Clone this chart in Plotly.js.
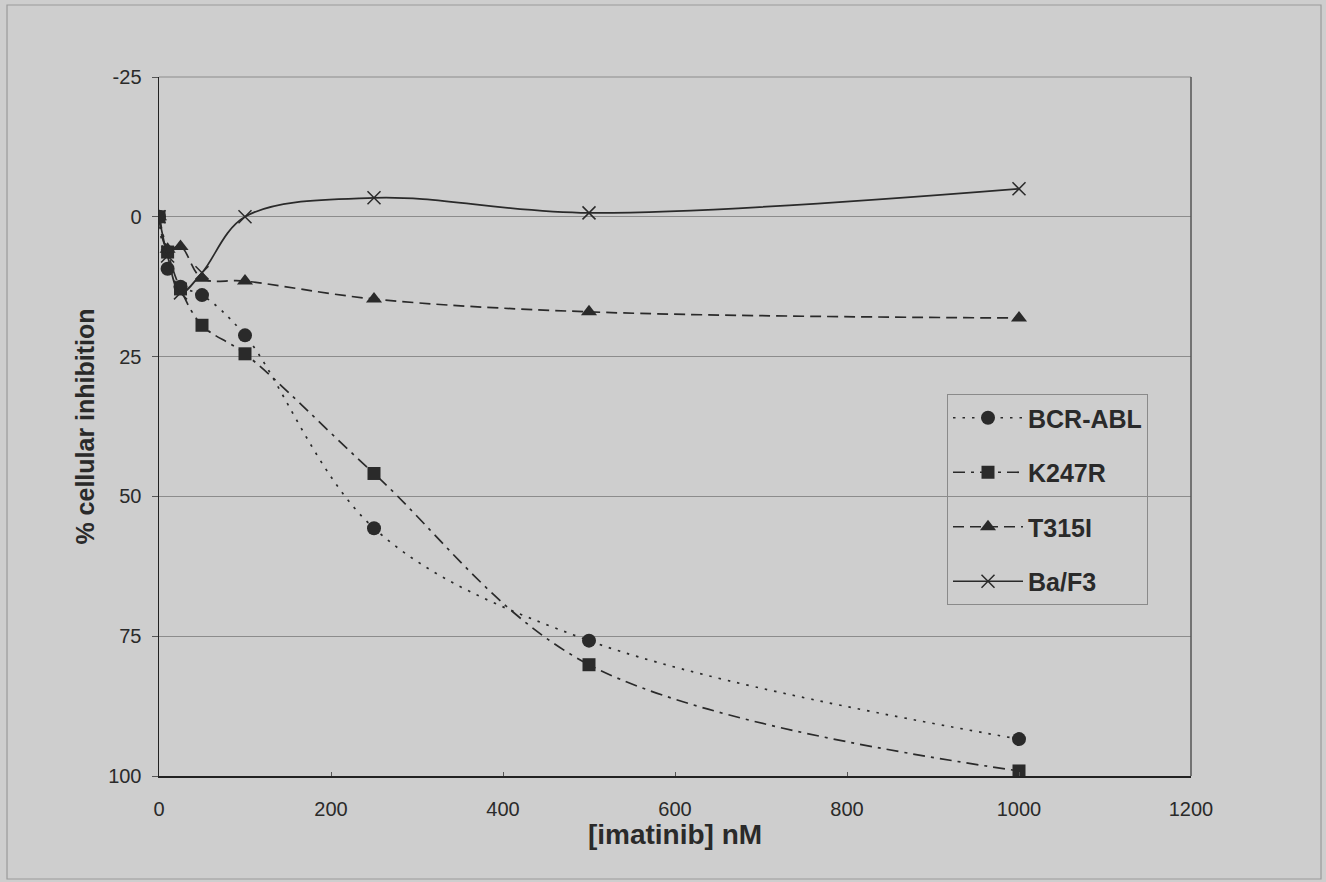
<!DOCTYPE html>
<html>
<head>
<meta charset="utf-8">
<script src="https://cdn.plot.ly/plotly-3.0.1.min.js"></script>
<style>html,body{margin:0;padding:0;background:#cecece;}</style>
</head>
<body>
<div id="chart" style="width:1326px;height:882px;"></div>
<script>
// Data
const concentrations = [0, 10, 25, 50, 100, 250, 500, 1000];
const bcrAbl = [0, 9.3, 12.5, 14, 21.2, 55.7, 75.8, 93.4];
const k247r  = [0, 6.3, 12.9, 19.4, 24.5, 45.9, 80.1, 99.1];
const t315i  = [0, 5.8, 5.3, 11, 11.5, 14.7, 17, 18.1];
const baf3   = [0, 7, 13.6, 10, 0, -3.4, -0.7, -5];
const seriesNames = ['BCR-ABL', 'K247R', 'T315I', 'Ba/F3'];
const yTicks = [-25, 0, 25, 50, 75, 100];
const xTicks = [0, 200, 400, 600, 800, 1000, 1200];

const ink = '#2a2a2a';
const font = 'Liberation Sans, Arial, sans-serif';

function trace(y, name, dash, symbol, size, group) {
  const isX = symbol === 'x-thin';
  return {
    x: concentrations, y: y, name: name, type: 'scatter', mode: 'lines+markers',
    legendgroup: group,
    line: {color: ink, width: 1.7, dash: dash, shape: 'spline', smoothing: 1},
    marker: {symbol: symbol, size: size, color: ink,
             line: {color: ink, width: isX ? 1.5 : 0}}
  };
}

const data = [
  trace(bcrAbl, seriesNames[0], '2.5px,7px', 'circle', 14, 'a'),
  trace(k247r, seriesNames[1], '12px,6px,3px,6px', 'square', 13, 'b'),
  trace(t315i, seriesNames[2], '11px,6px', 'triangle-up', 14, 'c'),
  trace(baf3, seriesNames[3], 'solid', 'x-thin', 13, 'd')
];

const L = 159, R = 1191, T = 77, B = 776;
const px = v => (v - L) / (R - L);
const py = v => (B - v) / (B - T);

const layout = {
  width: 1326, height: 882,
  margin: {l: L, r: 1326 - R, t: T, b: 882 - B},
  paper_bgcolor: '#cecece', plot_bgcolor: '#cecece',
  font: {family: font, color: ink, size: 20},
  showlegend: true,
  legend: {
    x: px(947), y: py(394), xanchor: 'left', yanchor: 'top',
    bgcolor: 'rgba(0,0,0,0)', bordercolor: '#8a8a8a', borderwidth: 1,
    font: {family: font, size: 25, color: ink, weight: 'bold'},
    traceorder: 'grouped', tracegroupgap: 19,
    itemwidth: 70
  },
  xaxis: {
    range: [0, 1200], tickvals: xTicks, ticktext: xTicks.map(String),
    showgrid: false, zeroline: false,
    showline: true, linecolor: '#222', linewidth: 1.5,
    ticks: 'inside', ticklen: 4, tickcolor: '#555',
    ticklabelstandoff: 14,
    tickfont: {size: 20, color: ink},
    title: {text: '[imatinib] nM', font: {size: 28, weight: 'bold', color: ink}, standoff: 2}
  },
  yaxis: {
    range: [100, -25], tickvals: yTicks, ticktext: yTicks.map(String),
    showgrid: true, gridcolor: '#8c8c8c', gridwidth: 1,
    zeroline: false,
    showline: true, linecolor: '#222', linewidth: 1.5,
    ticks: 'outside', ticklen: 6, tickcolor: '#555',
    ticklabelstandoff: 6,
    tickfont: {size: 20, color: ink},
    title: {text: '% cellular inhibition', font: {size: 25, weight: 'bold', color: ink}, standoff: 6}
  },
  shapes: [
    {type: 'line', xref: 'paper', yref: 'paper', x0: 0, x1: 1, y0: 1, y1: 1,
     line: {color: '#8c8c8c', width: 1}},
    {type: 'line', xref: 'paper', yref: 'paper', x0: 1, x1: 1, y0: 0, y1: 1,
     line: {color: '#555', width: 1.5}},
    {type: 'rect', xref: 'paper', yref: 'paper',
     x0: px(7), x1: px(1321), y0: py(5), y1: py(879),
     line: {color: '#9a9a9a', width: 1.2}, fillcolor: 'rgba(0,0,0,0)', layer: 'below'}
  ]
};

Plotly.newPlot('chart', data, layout, {displayModeBar: false, staticPlot: true});
</script>
</body>
</html>
